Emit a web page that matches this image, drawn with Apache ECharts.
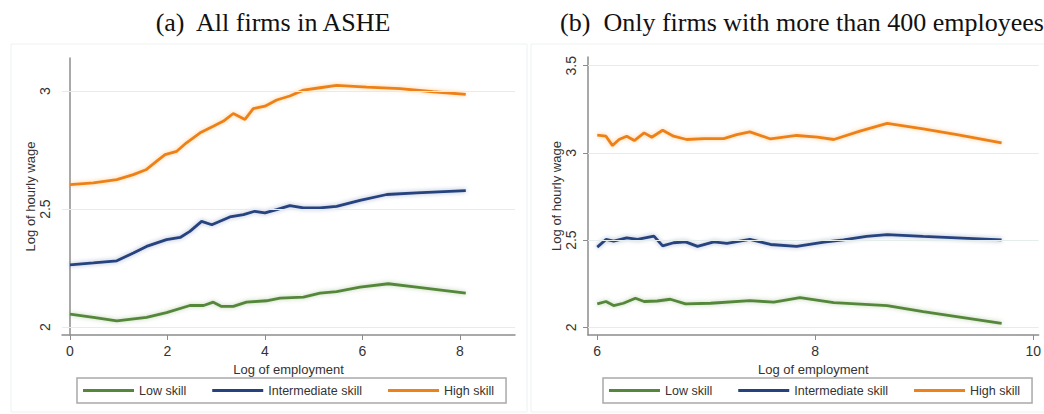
<!DOCTYPE html>
<html>
<head>
<meta charset="utf-8">
<script src="https://cdn.jsdelivr.net/npm/echarts@6/dist/echarts.min.js"></script>
<style>
  html, body { margin: 0; padding: 0; background: #fff; }
  #chart { width: 1044px; height: 414px; }
</style>
</head>
<body>
<div id="chart"></div>
<script>
// panel (a): all firms in ASHE
const aHighX = [0, 0.48, 0.96, 1.3, 1.57, 1.78, 1.95, 2.19, 2.39, 2.67, 2.94, 3.15, 3.35, 3.59, 3.76, 4.0, 4.24, 4.51, 4.79, 5.13, 5.47, 6.09, 6.77, 7.45, 8.12];
const aHigh = [2.604, 2.611, 2.625, 2.646, 2.668, 2.703, 2.731, 2.745, 2.781, 2.823, 2.851, 2.873, 2.905, 2.88, 2.926, 2.936, 2.962, 2.979, 3.004, 3.014, 3.024, 3.017, 3.01, 2.997, 2.986];
const aMidX = [0, 0.48, 0.96, 1.3, 1.57, 1.98, 2.26, 2.46, 2.7, 2.91, 3.28, 3.56, 3.79, 4.0, 4.24, 4.51, 4.79, 5.13, 5.47, 5.95, 6.5, 7.11, 8.12];
const aMid = [2.264, 2.272, 2.281, 2.314, 2.342, 2.371, 2.38, 2.406, 2.448, 2.434, 2.467, 2.477, 2.491, 2.484, 2.498, 2.515, 2.505, 2.505, 2.512, 2.537, 2.562, 2.569, 2.578];
const aLowX = [0, 0.48, 0.96, 1.57, 1.98, 2.46, 2.74, 2.94, 3.11, 3.35, 3.62, 4.03, 4.31, 4.79, 5.13, 5.47, 5.95, 6.53, 7.11, 8.12];
const aLow = [2.055, 2.042, 2.027, 2.042, 2.062, 2.092, 2.092, 2.106, 2.088, 2.088, 2.106, 2.112, 2.123, 2.127, 2.144, 2.151, 2.17, 2.184, 2.17, 2.144];

// panel (b): only firms with more than 400 employees
const bHighX = [6.0, 6.08, 6.14, 6.2, 6.27, 6.34, 6.43, 6.5, 6.6, 6.7, 6.82, 6.98, 7.16, 7.28, 7.4, 7.59, 7.83, 8.02, 8.17, 8.41, 8.66, 8.99, 9.3, 9.71];
const bHigh = [3.102, 3.096, 3.042, 3.077, 3.096, 3.071, 3.115, 3.09, 3.13, 3.096, 3.077, 3.082, 3.082, 3.105, 3.121, 3.08, 3.1, 3.09, 3.077, 3.125, 3.169, 3.138, 3.105, 3.057];
const bMidX = [6.0, 6.08, 6.15, 6.27, 6.37, 6.52, 6.6, 6.7, 6.81, 6.92, 7.07, 7.19, 7.4, 7.59, 7.83, 8.08, 8.26, 8.47, 8.66, 8.99, 9.71];
const bMid = [2.46, 2.504, 2.494, 2.513, 2.504, 2.523, 2.467, 2.485, 2.49, 2.464, 2.49, 2.481, 2.504, 2.475, 2.464, 2.489, 2.502, 2.521, 2.531, 2.521, 2.502];
const bLowX = [6.0, 6.08, 6.15, 6.24, 6.35, 6.43, 6.55, 6.67, 6.81, 7.04, 7.4, 7.62, 7.86, 8.17, 8.66, 8.99, 9.71];
const bLow = [2.134, 2.148, 2.125, 2.138, 2.167, 2.148, 2.151, 2.161, 2.134, 2.138, 2.153, 2.144, 2.17, 2.142, 2.125, 2.09, 2.023];

const skills = ['Low skill', 'Intermediate skill', 'High skill'];
const colors = ['#55873a', '#25427f', '#ee8118'];
const aTicksX = [0, 2, 4, 6, 8];
const aTicksY = [2, 2.5, 3];
const bTicksX = [6, 8, 10];
const bTicksY = [2, 2.5, 3, 3.5];

const titles = ['(a)  All firms in ASHE', '(b)  Only firms with more than 400 employees'];

const font = 'Liberation Sans, Arial, sans-serif';
const zip = (xs, ys) => xs.map((x, i) => [x, ys[i]]);

const chart = echarts.init(document.getElementById('chart'), null, { renderer: 'svg' });

const axisX = (idx, min, max, ticks) => ({
  type: 'value', gridIndex: idx, min, max,
  name: 'Log of employment', nameLocation: 'middle', nameGap: 16,
  nameTextStyle: { fontFamily: font, fontSize: 13, color: '#333' },
  axisLine: { lineStyle: { color: '#8c8c8c', width: 1.5 } },
  axisTick: { show: true, length: 5, customValues: ticks, lineStyle: { color: '#8c8c8c' } },
  axisLabel: { customValues: ticks, margin: 9, fontFamily: font, fontSize: 14, color: '#333' },
  splitLine: { show: false }
});

const axisY = (idx, min, max, ticks) => ({
  type: 'value', gridIndex: idx, min, max,
  name: 'Log of hourly wage', nameLocation: 'middle', nameGap: 22,
  nameTextStyle: { fontFamily: font, fontSize: 13, color: '#333' },
  axisLine: { show: true, lineStyle: { color: '#8c8c8c', width: 1.5 } },
  axisTick: { show: true, length: 5, customValues: ticks, lineStyle: { color: '#8c8c8c' } },
  axisLabel: { customValues: ticks, rotate: 90, margin: 10, fontFamily: font, fontSize: 14, color: '#333' },
  splitLine: { show: false }
});

const line = (name, idx, data, color, grid) => ({
  name, type: 'line', xAxisIndex: idx, yAxisIndex: idx,
  data, showSymbol: false, symbol: 'none', z: 3,
  lineStyle: { color, width: 2.8, shadowColor: color + '66', shadowBlur: 4 },
  itemStyle: { color },
  markLine: grid ? {
    silent: true, symbol: 'none', label: { show: false },
    lineStyle: { color: '#e4ecec', width: 1, type: 'solid' },
    data: grid.map(v => ({ yAxis: v }))
  } : undefined
});

const legend = (left) => ({
  left, top: 378, orient: 'horizontal',
  data: skills, icon: 'rect', itemWidth: 51, itemHeight: 3, itemGap: 26,
  padding: [6, 12, 6, 6], borderColor: '#a9a9a9', borderWidth: 1.5,
  textStyle: { fontFamily: font, fontSize: 12.5, color: '#333' },
  selectedMode: false
});

const option = {
  backgroundColor: '#fff',
  animation: false,
  title: [
    { text: titles[0], left: 268, top: 4, textAlign: 'center',
      textStyle: { fontFamily: 'Liberation Serif, Times New Roman, serif', fontSize: 26, fontWeight: 'normal', color: '#111' } },
    { text: titles[1], left: 797, top: 4, textAlign: 'center',
      textStyle: { fontFamily: 'Liberation Serif, Times New Roman, serif', fontSize: 26, fontWeight: 'normal', color: '#111' } }
  ],
  graphic: [
    { type: 'rect', shape: { x: 11, y: 44, width: 516, height: 368 }, style: { fill: 'none', stroke: '#edf2f2', lineWidth: 1 }, silent: true, z: -1 },
    { type: 'rect', shape: { x: 531, y: 44, width: 520, height: 368 }, style: { fill: 'none', stroke: '#edf2f2', lineWidth: 1 }, silent: true, z: -1 }
  ],
  legend: [legend(77), legend(603)],
  grid: [
    { left: 62, right: 529, top: 58, bottom: 79 },
    { left: 588, right: 4, top: 57, bottom: 79 }
  ],
  xAxis: [axisX(0, -0.164, 9.13, aTicksX), axisX(1, 5.915, 10.05, bTicksX)],
  yAxis: [axisY(0, 1.967, 3.14, aTicksY), axisY(1, 1.956, 3.55, bTicksY)],
  series: [
    line(skills[0], 0, zip(aLowX, aLow), colors[0], aTicksY),
    line(skills[1], 0, zip(aMidX, aMid), colors[1]),
    line(skills[2], 0, zip(aHighX, aHigh), colors[2]),
    line(skills[0], 1, zip(bLowX, bLow), colors[0], bTicksY),
    line(skills[1], 1, zip(bMidX, bMid), colors[1]),
    line(skills[2], 1, zip(bHighX, bHigh), colors[2])
  ]
};

chart.setOption(option);
</script>
</body>
</html>
